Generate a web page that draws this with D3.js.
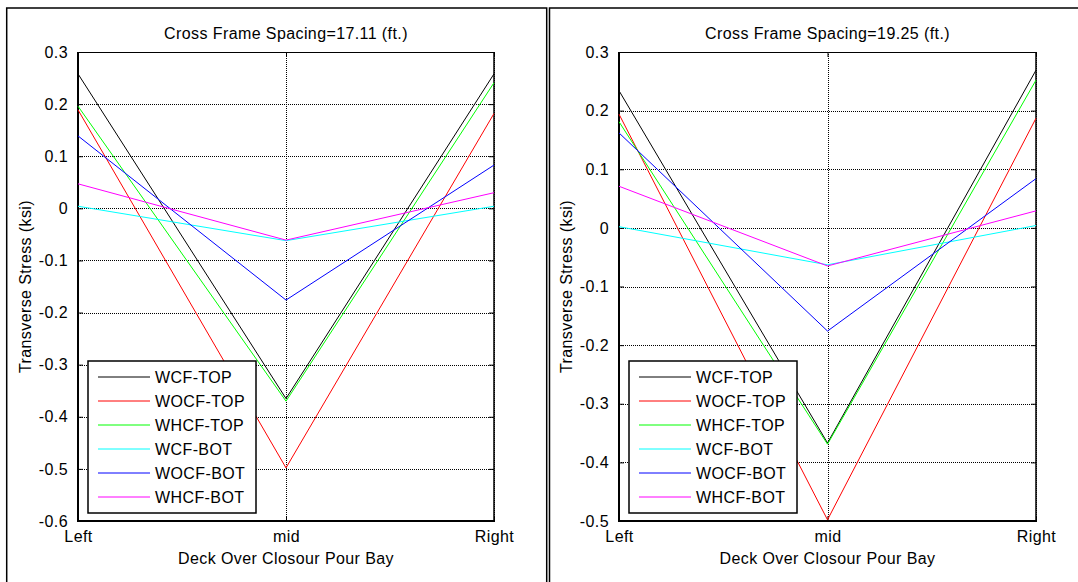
<!DOCTYPE html>
<html>
<head>
<meta charset="utf-8">
<script src="https://cdn.jsdelivr.net/npm/d3@7"></script>
<style>
  html, body { margin: 0; padding: 0; background: #fff; }
  svg { display: block; }
  text { font-family: "Liberation Sans", Arial, sans-serif; fill: #000; letter-spacing: 0.4px; }
</style>
</head>
<body>
<svg id="chart" width="1078" height="582"></svg>
<script>
// ---------- data ----------
const categories = ["Left", "mid", "Right"];
const seriesNames = ["WCF-TOP", "WOCF-TOP", "WHCF-TOP", "WCF-BOT", "WOCF-BOT", "WHCF-BOT"];
const seriesColors = ["#000000", "#ff0000", "#00ff00", "#00ffff", "#0000ff", "#ff00ff"];

// Panel 1: Cross Frame Spacing = 17.11 ft
const title1 = "Cross Frame Spacing=17.11 (ft.)";
const wcfTop1  = [0.258, -0.365, 0.258];
const wocfTop1 = [0.189, -0.498, 0.182];
const whcfTop1 = [0.196, -0.370, 0.241];
const wcfBot1  = [0.004, -0.062, 0.004];
const wocfBot1 = [0.139, -0.176, 0.083];
const whcfBot1 = [0.047, -0.061, 0.030];
const yTicks1 = [0.3, 0.2, 0.1, 0, -0.1, -0.2, -0.3, -0.4, -0.5, -0.6];

// Panel 2: Cross Frame Spacing = 19.25 ft
const title2 = "Cross Frame Spacing=19.25 (ft.)";
const wcfTop2  = [0.234, -0.367, 0.269];
const wocfTop2 = [0.194, -0.498, 0.187];
const whcfTop2 = [0.181, -0.369, 0.252];
const wcfBot2  = [0.002, -0.063, 0.004];
const wocfBot2 = [0.162, -0.176, 0.084];
const whcfBot2 = [0.071, -0.065, 0.029];
const yTicks2 = [0.3, 0.2, 0.1, 0, -0.1, -0.2, -0.3, -0.4, -0.5];

const xLabel = "Deck Over Closour Pour Bay";
const yLabel = "Transverse Stress (ksi)";

// ---------- drawing ----------
const svg = d3.select("#chart");

// figure panel borders
svg.append("rect").attr("x", 6.7).attr("y", 8).attr("width", 540).attr("height", 600)
  .attr("fill", "none").attr("stroke", "#000").attr("stroke-width", 1.5);
svg.append("rect").attr("x", 549.5).attr("y", 8).attr("width", 560).attr("height", 600)
  .attr("fill", "none").attr("stroke", "#000").attr("stroke-width", 1.5);

const fmt = d => d === 0 ? "0" : d3.format(".1f")(d).replace("\u2212", "-");

function drawPanel(cfg) {
  const { x0, x1, y0, y1, ticks, title, series } = cfg;
  const x = d3.scalePoint().domain(categories).range([x0, x1]).padding(0);
  const y = d3.scaleLinear().domain([d3.min(ticks), d3.max(ticks)]).range([y1, y0]);
  const g = svg.append("g");

  // grid lines (dotted)
  g.selectAll(".hgrid").data(ticks).enter().append("line")
    .attr("x1", x0).attr("x2", x1)
    .attr("y1", d => Math.round(y(d)) + 0.5).attr("y2", d => Math.round(y(d)) + 0.5)
    .attr("stroke", "#000").attr("stroke-width", 1).attr("stroke-dasharray", "1,1");
  g.selectAll(".vgrid").data(categories).enter().append("line")
    .attr("x1", d => Math.round(x(d)) + 0.5).attr("x2", d => Math.round(x(d)) + 0.5)
    .attr("y1", y0).attr("y2", y1)
    .attr("stroke", "#000").attr("stroke-width", 1).attr("stroke-dasharray", "1,1");

  // axes
  const yAxis = d3.axisLeft(y).tickValues(ticks).tickFormat(fmt).tickSize(-5).tickPadding(10);
  const ya = g.append("g").attr("transform", `translate(${x0},0)`).call(yAxis);
  ya.select(".domain").remove();
  ya.selectAll("line").attr("stroke", "#000");
  ya.selectAll("text").style("font-size", "16px").attr("fill", "#000");

  const yAxisR = d3.axisRight(y).tickValues(ticks).tickFormat("").tickSize(-5);
  const yr = g.append("g").attr("transform", `translate(${x1},0)`).call(yAxisR);
  yr.select(".domain").remove();

  const xAxis = d3.axisBottom(x).tickSize(-5).tickPadding(10);
  const xa = g.append("g").attr("transform", `translate(0,${y1})`).call(xAxis);
  xa.select(".domain").remove();
  xa.selectAll("text").style("font-size", "16px").attr("fill", "#000");

  const xAxisT = d3.axisTop(x).tickFormat("").tickSize(-5);
  const xt = g.append("g").attr("transform", `translate(0,${y0})`).call(xAxisT);
  xt.select(".domain").remove();

  // axis box
  g.append("line").attr("x1", x0).attr("x2", x1).attr("y1", y0 + 0.5).attr("y2", y0 + 0.5)
    .attr("stroke", "#000").attr("stroke-width", 1);
  g.append("line").attr("x1", x1).attr("x2", x1).attr("y1", y0).attr("y2", y1)
    .attr("stroke", "#000").attr("stroke-width", 1.5);
  g.append("line").attr("x1", x0).attr("x2", x0).attr("y1", y0).attr("y2", y1 + 1)
    .attr("stroke", "#000").attr("stroke-width", 2);
  g.append("line").attr("x1", x0 - 1).attr("x2", x1 + 1).attr("y1", y1).attr("y2", y1)
    .attr("stroke", "#000").attr("stroke-width", 2);

  // series lines
  const line = d3.line().x((d, i) => x(categories[i])).y(d => y(d));
  series.forEach((vals, i) => {
    g.append("path").datum(vals).attr("d", line)
      .attr("fill", "none").attr("stroke", seriesColors[i]).attr("stroke-width", 1);
  });

  // title
  g.append("text").attr("x", (x0 + x1) / 2).attr("y", 39).attr("text-anchor", "middle")
    .style("font-size", "16px").text(title);
  // x label
  g.append("text").attr("x", (x0 + x1) / 2).attr("y", 564).attr("text-anchor", "middle")
    .style("font-size", "16px").text(xLabel);
  // y label
  g.append("text").attr("transform", `translate(${x0 - 47},${(y0 + y1) / 2}) rotate(-90)`)
    .attr("text-anchor", "middle").style("font-size", "16px").text(yLabel);

  // legend
  const lx = x0 + 10, ly = 361, lw = 168, lh = 152;
  const lg = g.append("g");
  lg.append("rect").attr("x", lx).attr("y", ly).attr("width", lw).attr("height", lh)
    .attr("fill", "#fff").attr("stroke", "#000").attr("stroke-width", 1.5);
  seriesNames.forEach((name, i) => {
    const cy = ly + 16 + i * 24;
    lg.append("line").attr("x1", lx + 10).attr("x2", lx + 62).attr("y1", cy).attr("y2", cy)
      .attr("stroke", seriesColors[i]).attr("stroke-width", 1);
    lg.append("text").attr("x", lx + 67).attr("y", cy).attr("dy", "0.36em")
      .style("font-size", "16px").text(name);
  });
}

drawPanel({
  x0: 78, x1: 494, y0: 52, y1: 521, ticks: yTicks1, title: title1,
  series: [wcfTop1, wocfTop1, whcfTop1, wcfBot1, wocfBot1, whcfBot1]
});
drawPanel({
  x0: 619, x1: 1036, y0: 52, y1: 521, ticks: yTicks2, title: title2,
  series: [wcfTop2, wocfTop2, whcfTop2, wcfBot2, wocfBot2, whcfBot2]
});
</script>
</body>
</html>
